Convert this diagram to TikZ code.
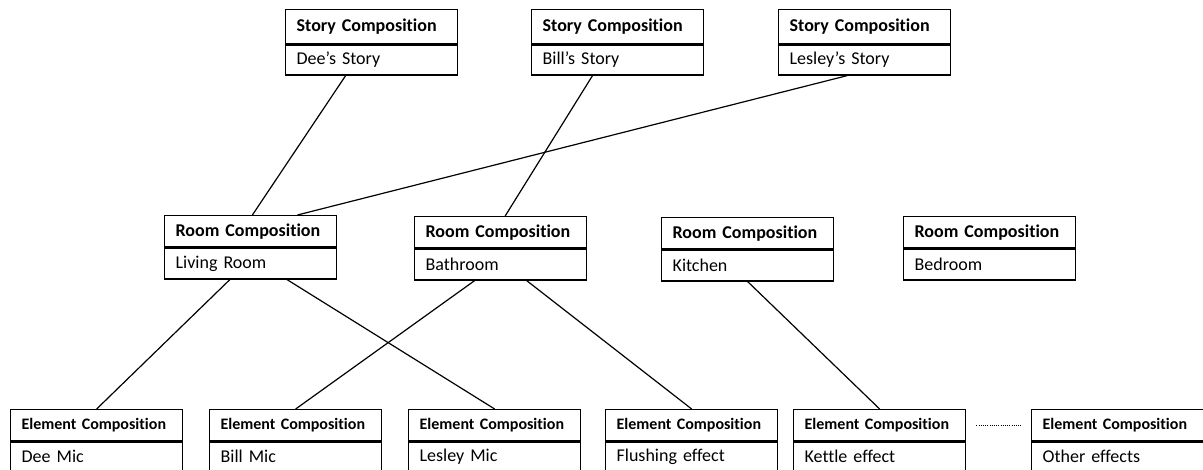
\documentclass[tikz,border=0pt]{standalone}
\usepackage{fontspec}
\setmainfont{Carlito}[Ligatures=NoCommon]
\usetikzlibrary{calc}
\tikzset{
  box/.style={draw=black, line width=1.3pt, fill=white, minimum width=172pt, text width=150pt,
    inner xsep=11pt, inner ysep=0pt, align=left, font=\fontsize{18}{20}\selectfont},
  hdr/.style={box, font=\fontsize{18}{20}\selectfont\bfseries},
  ehdr/.style={box, font=\fontsize{16}{18}\selectfont\bfseries},
  link/.style={draw=black, line width=1.2pt},
  dots/.style={draw=black, line width=1.1pt, dash pattern=on 1pt off 1.2pt}
}
\begin{document}
\begin{tikzpicture}[x=1pt,y=-1pt]
\useasboundingbox[fill=white] (0,0) rectangle (1203,470);
% Story compositions
\node[hdr, minimum height=34pt, anchor=north west] (ds-h) at (285,9) {Story Composition};
\node[box, minimum height=30pt, anchor=north] (ds) at (ds-h.south) {Dee’s Story};
\node[hdr, minimum height=34pt, anchor=north west] (bs-h) at (531,9) {Story Composition};
\node[box, minimum height=30pt, anchor=north] (bs) at (bs-h.south) {Bill’s Story};
\node[hdr, minimum height=34pt, anchor=north west] (ls-h) at (778,9) {Story Composition};
\node[box, minimum height=30pt, anchor=north] (ls) at (ls-h.south) {Lesley’s Story};
% Room compositions
\node[hdr, minimum height=31pt, anchor=north west] (lr-h) at (164,215) {Room Composition};
\node[box, minimum height=31pt, anchor=north] (lr) at (lr-h.south) {Living Room};
\node[hdr, minimum height=31pt, anchor=north west] (ba-h) at (414,216) {Room Composition};
\node[box, minimum height=31pt, anchor=north] (ba) at (ba-h.south) {Bathroom};
\node[hdr, minimum height=31pt, anchor=north west] (ki-h) at (661,217) {Room Composition};
\node[box, minimum height=31pt, anchor=north] (ki) at (ki-h.south) {Kitchen};
\node[hdr, minimum height=31pt, anchor=north west] (be-h) at (903,216) {Room Composition};
\node[box, minimum height=31pt, anchor=north] (be) at (be-h.south) {Bedroom};
% Element compositions
\node[ehdr, minimum height=31pt, anchor=north west] (dm-h) at (10,409) {Element Composition};
\node[box, minimum height=29pt, anchor=north] (dm) at (dm-h.south) {Dee Mic};
\node[ehdr, minimum height=31pt, anchor=north west] (bm-h) at (209,409) {Element Composition};
\node[box, minimum height=29pt, anchor=north] (bm) at (bm-h.south) {Bill Mic};
\node[ehdr, minimum height=31pt, anchor=north west] (lm-h) at (408,409) {Element Composition};
\node[box, minimum height=29pt, anchor=north] (lm) at (lm-h.south) {Lesley Mic};
\node[ehdr, minimum height=31pt, anchor=north west] (fe-h) at (605,409) {Element Composition};
\node[box, minimum height=29pt, anchor=north] (fe) at (fe-h.south) {Flushing effect};
\node[ehdr, minimum height=31pt, anchor=north west] (ke-h) at (793,409) {Element Composition};
\node[box, minimum height=29pt, anchor=north] (ke) at (ke-h.south) {Kettle effect};
\node[ehdr, minimum height=31pt, anchor=north west] (oe-h) at (1031,409) {Element Composition};
\node[box, minimum height=29pt, anchor=north] (oe) at (oe-h.south) {Other effects};
% Connectors
\draw[link] ($(ds.south west)!0.35!(ds.south east)$) -- ($(lr-h.north west)!0.51!(lr-h.north east)$);
\draw[link] ($(bs.south west)!0.355!(bs.south east)$) -- ($(ba-h.north west)!0.526!(ba-h.north east)$);
\draw[link] ($(ls.south west)!0.40!(ls.south east)$) -- ($(lr-h.north west)!0.77!(lr-h.north east)$);
\draw[link] ($(lr.south west)!0.38!(lr.south east)$) -- (dm-h.north);
\draw[link] ($(lr.south west)!0.71!(lr.south east)$) -- (lm-h.north);
\draw[link] ($(ba.south west)!0.35!(ba.south east)$) -- (bm-h.north);
\draw[link] ($(ba.south west)!0.65!(ba.south east)$) -- (fe-h.north);
\draw[link] (ki.south) -- (ke-h.north);
\draw[dots] ($(ke-h.east)+(10,0)$) -- ($(oe-h.west)+(-9,0)$);
\end{tikzpicture}
\end{document}
